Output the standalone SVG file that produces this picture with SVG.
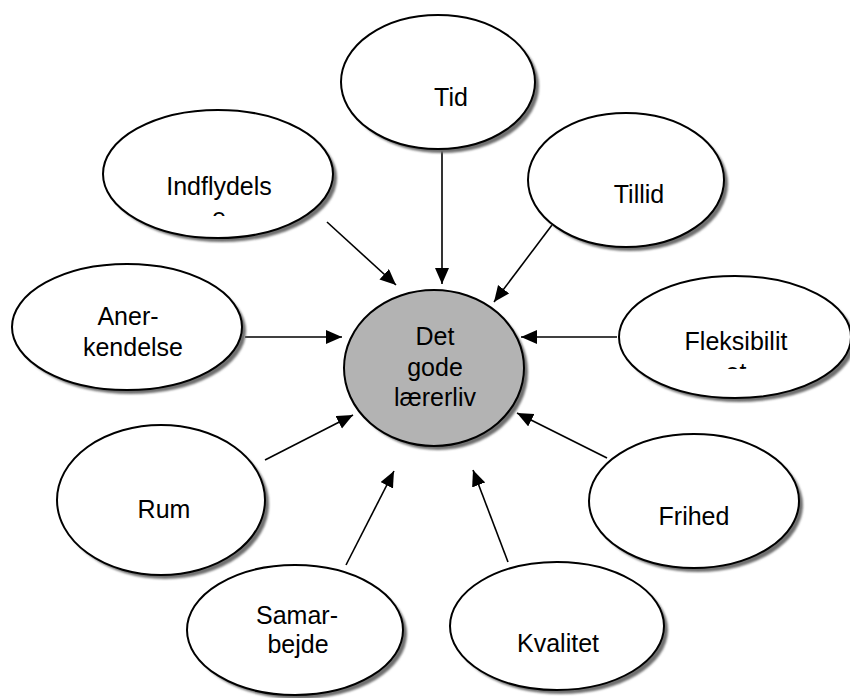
<svg xmlns="http://www.w3.org/2000/svg" width="850" height="698" viewBox="0 0 850 698">
<style>
.sh{fill:#707070;stroke:none;filter:url(#blur)}
.n{fill:#ffffff;stroke:#000;stroke-width:2}
.c{fill:#b3b3b3;stroke:#000;stroke-width:2}
text{font-family:"Liberation Sans",Arial,sans-serif;font-size:25px;fill:#000;text-anchor:middle}
.e{stroke:#000;stroke-width:1.6;fill:none;marker-end:url(#ah)}
</style>
<defs>
<filter id="blur" x="-10%" y="-10%" width="120%" height="120%"><feGaussianBlur stdDeviation="1"/></filter>
<marker id="ah" markerUnits="userSpaceOnUse" markerWidth="18" markerHeight="15" refX="16" refY="7" orient="auto"><path d="M0,0 L16,7 L0,14 z" fill="#000"/></marker>
<clipPath id="clipI"><rect x="90" y="100" width="260" height="116"/></clipPath>
<clipPath id="clipF"><rect x="600" y="260" width="250" height="109"/></clipPath>
</defs>
<rect width="850" height="698" fill="#fff"/>
<g id="connectors">
<line class="e" x1="442" y1="149" x2="442" y2="284"/>
<line class="e" x1="327" y1="222" x2="396" y2="285"/>
<line class="e" x1="552" y1="225" x2="494" y2="302"/>
<line class="e" x1="245" y1="337" x2="342" y2="337"/>
<line class="e" x1="617" y1="337" x2="521" y2="337"/>
<line class="e" x1="265" y1="460" x2="353" y2="415"/>
<line class="e" x1="607" y1="458" x2="517" y2="413"/>
<line class="e" x1="346" y1="565" x2="394" y2="471"/>
<line class="e" x1="508" y1="562" x2="473" y2="470"/>
</g>
<g id="center">
<ellipse class="sh" cx="438" cy="372" rx="90" ry="78"/>
<ellipse class="c" cx="434" cy="368" rx="90" ry="78"/>
<text x="435" y="345">Det</text>
<text x="435" y="376">gode</text>
<text x="435" y="406">lærerliv</text>
</g>
<g id="tid">
<ellipse class="sh" cx="442" cy="86" rx="97" ry="67"/>
<ellipse class="n" cx="438" cy="82" rx="97" ry="67"/>
<text x="451" y="106">Tid</text>
</g>
<g id="tillid">
<ellipse class="sh" cx="630" cy="184" rx="98" ry="67"/>
<ellipse class="n" cx="626" cy="180" rx="98" ry="67"/>
<text x="639" y="203">Tillid</text>
</g>
<g id="indflydelse">
<ellipse class="sh" cx="222" cy="178" rx="115" ry="64"/>
<ellipse class="n" cx="218" cy="174" rx="115" ry="64"/>
<g clip-path="url(#clipI)">
<text x="219" y="195">Indflydels</text>
<text x="219" y="226">e</text>
</g>
</g>
<g id="anerkendelse">
<ellipse class="sh" cx="131" cy="331" rx="115" ry="63"/>
<ellipse class="n" cx="127" cy="327" rx="115" ry="63"/>
<text x="128" y="325">Aner-</text>
<text x="133" y="356">kendelse</text>
</g>
<g id="fleksibilitet">
<ellipse class="sh" cx="739" cy="341" rx="116" ry="61"/>
<ellipse class="n" cx="735" cy="337" rx="116" ry="61"/>
<g clip-path="url(#clipF)">
<text x="736" y="350">Fleksibilit</text>
<text x="736" y="381">et</text>
</g>
</g>
<g id="rum">
<ellipse class="sh" cx="165" cy="504" rx="104" ry="75"/>
<ellipse class="n" cx="161" cy="500" rx="104" ry="75"/>
<text x="164" y="518">Rum</text>
</g>
<g id="frihed">
<ellipse class="sh" cx="698" cy="505" rx="105" ry="67"/>
<ellipse class="n" cx="694" cy="501" rx="105" ry="67"/>
<text x="694" y="525">Frihed</text>
</g>
<g id="samarbejde">
<ellipse class="sh" cx="299" cy="634" rx="108" ry="65"/>
<ellipse class="n" cx="295" cy="630" rx="108" ry="65"/>
<text x="297" y="624">Samar-</text>
<text x="298" y="653">bejde</text>
</g>
<g id="kvalitet">
<ellipse class="sh" cx="561" cy="630" rx="107" ry="64"/>
<ellipse class="n" cx="557" cy="626" rx="107" ry="64"/>
<text x="558" y="652">Kvalitet</text>
</g>
</svg>
